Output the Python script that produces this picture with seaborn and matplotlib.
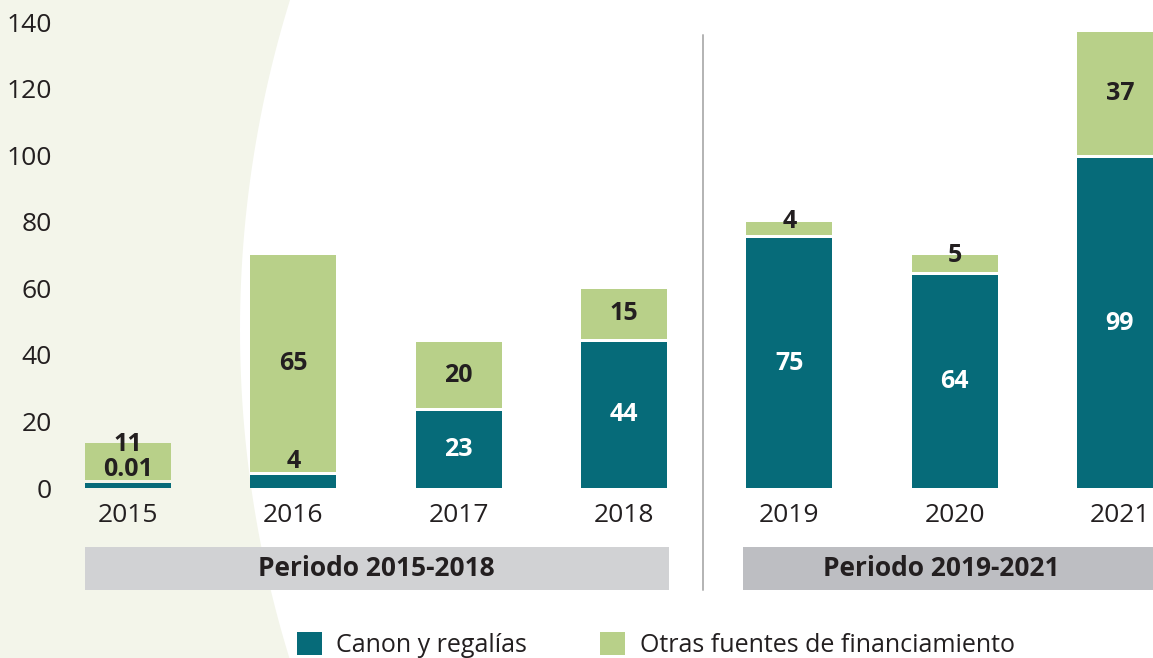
import numpy as np
import pandas as pd
import seaborn as sns
import matplotlib.pyplot as plt
from matplotlib.patches import Patch, Rectangle, Polygon
from matplotlib.transforms import blended_transform_factory

# ========== data ==========
years = ['2015', '2016', '2017', '2018', '2019', '2020', '2021']
canon = [0.01, 4, 23, 44, 75, 64, 99]
otras = [11, 65, 20, 15, 4, 5, 37]
canon_labels = ['0.01', '4', '23', '44', '75', '64', '99']
otras_labels = ['11', '65', '20', '15', '4', '5', '37']
periods = ['Periodo 2015-2018', 'Periodo 2019-2021']
legend_labels = ['Canon y regalías', 'Otras fuentes de financiamiento']
yticks = [0, 20, 40, 60, 80, 100, 120, 140]

# ========== style ==========
teal = '#066b79'
green = '#b8d089'
cream = '#f3f5ea'
txt = '#231f20'

sns.set_theme(style='white')
plt.rcParams['font.family'] = ['Open Sans', 'DejaVu Sans']

W, H = 1153, 658
fig = plt.figure(figsize=(W / 100, H / 100), dpi=100)
fig.patch.set_facecolor('white')

# cream background shape on the left (edge of a large circle)
yy = np.linspace(0, H, 200)
xx = 1354 - np.sqrt(1114 ** 2 - (yy - 330) ** 2)
pts = [(0, 0)] + list(zip(xx, yy)) + [(0, H)]
pts = [(px / W, 1 - py / H) for px, py in pts]
fig.patches.append(Polygon(pts, closed=True, transform=fig.transFigure,
                           facecolor=cream, edgecolor='none', zorder=-10))

ax = fig.add_axes([85 / W, 1 - 488 / H, (W - 85) / W, (488 - 22) / H])
ax.patch.set_alpha(0)

# display floor so the tiny 2015 segment is still visible, as in the source
canon_disp = np.maximum(canon, 1.5)
gap = 0.9  # white gap between the stacked segments
df = pd.DataFrame({'year': years, 'canon': canon_disp, 'otras': otras})

sns.barplot(data=df, x='year', y='canon', color=teal, saturation=1,
            width=0.52, linewidth=0, ax=ax)
sns.barplot(data=df, x='year', y='otras', color=green, saturation=1,
            width=0.52, linewidth=0, bottom=canon_disp + gap, ax=ax)

ax.set_xlim(-0.26, 6.2)
ax.set_ylim(0, 140)
ax.set_yticks(yticks)
ax.set_xlabel('')
ax.set_ylabel('')
sns.despine(ax=ax, left=True, bottom=True)
ax.tick_params(axis='y', length=0, pad=24, labelsize=19, labelcolor=txt)
ax.tick_params(axis='x', length=0, pad=11, labelsize=19, labelcolor=txt)

# value labels
for i in range(len(years)):
    c = canon_disp[i]
    if canon[i] >= 10:
        ax.text(i, c / 2, canon_labels[i], ha='center', va='center',
                color='white', fontsize=18, fontweight='bold')
        gy = c + gap + otras[i] / 2
    else:
        cy = c + 4
        ax.text(i, cy, canon_labels[i], ha='center', va='center',
                color=txt, fontsize=18, fontweight='bold')
        gy = max(c + gap + otras[i] / 2, cy + 7.5)
    if canon[i] >= 10 and otras[i] < 10:
        gy = c + gap + otras[i] / 2 + 2.3
    ax.text(i, gy, otras_labels[i], ha='center', va='center',
            color=txt, fontsize=18, fontweight='bold')

# divider between periods
trans = blended_transform_factory(ax.transData, fig.transFigure)
ax.plot([3.48, 3.48], [1 - 35 / H, 1 - 590 / H], color='#b3b3b3', lw=1.4,
        transform=trans, clip_on=False)

# period boxes
boxes = [(-0.26, 3.27, '#d1d2d4', 1.5), (3.72, 6.3, '#bdbec2', 4.92)]
for (x0, x1, col, xc), label in zip(boxes, periods):
    ax.add_patch(Rectangle((x0, 1 - 590 / H), x1 - x0, 43 / H, transform=trans,
                           facecolor=col, edgecolor='none', clip_on=False))
    ax.text(xc, 1 - 569 / H, label, transform=trans, ha='center', va='center',
            fontsize=19, fontweight='bold', color=txt)

# legend
handles = [Patch(facecolor=teal, edgecolor='none'),
           Patch(facecolor=green, edgecolor='none')]
fig.legend(handles, legend_labels, loc='center left',
           bbox_to_anchor=(284 / W, 1 - 645 / H), ncol=2, frameon=False,
           fontsize=18, handlelength=1.0, handleheight=1.0,
           handletextpad=0.6, columnspacing=2.9, borderpad=0,
           labelcolor=txt)

fig.savefig('out.png', dpi=100)
